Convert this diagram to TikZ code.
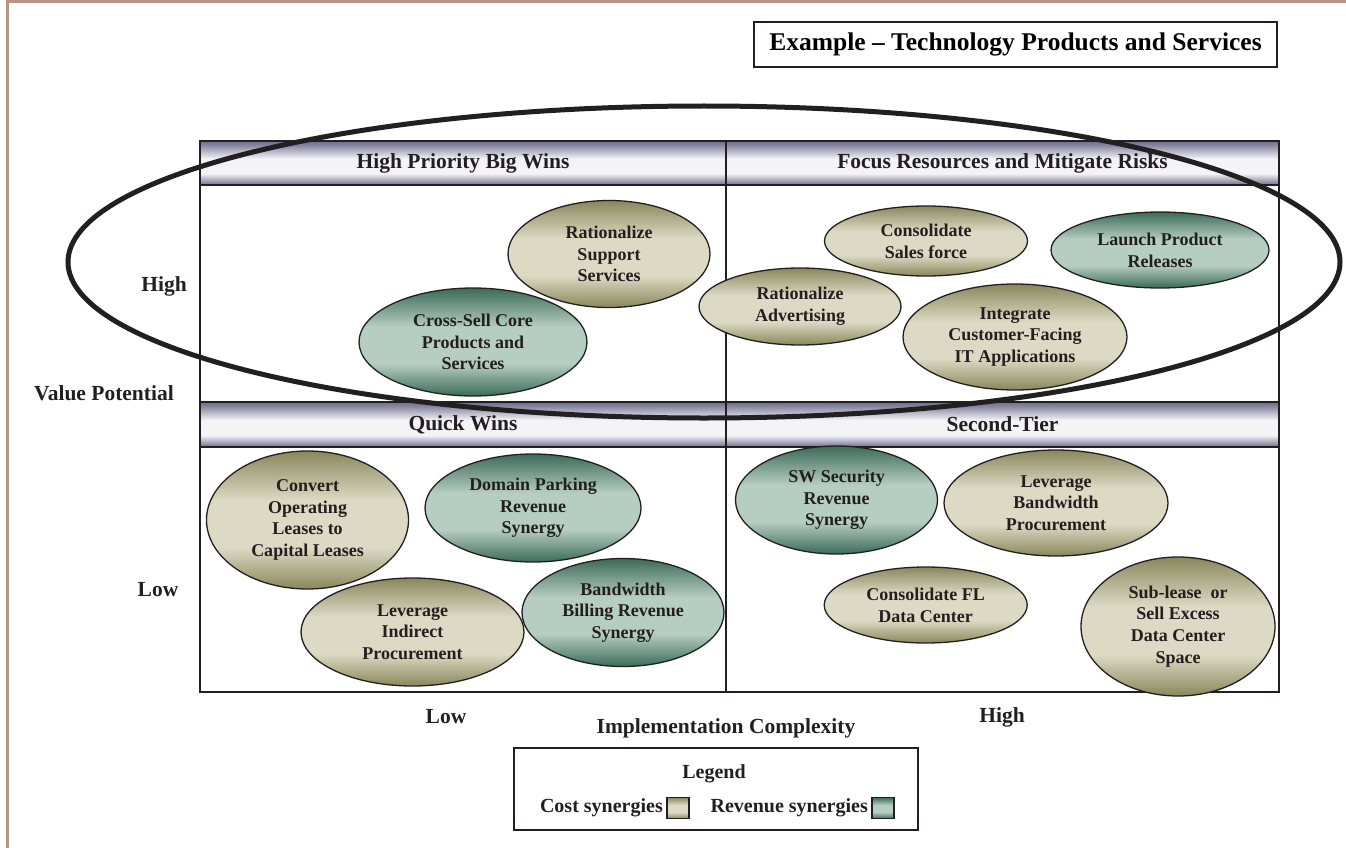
\documentclass[tikz,border=0pt]{standalone}
\usepackage{fontspec}
\setmainfont{Liberation Serif}
\usepackage{tikz}
\usetikzlibrary{shapes.geometric}
\definecolor{ink}      {HTML}{231F20}
\definecolor{rose}     {HTML}{B89484}
\definecolor{tandark}  {HTML}{8A875C}
\definecolor{tanlight} {HTML}{DCDAC4}
\definecolor{tealdark} {HTML}{3B6B58}
\definecolor{teallight}{HTML}{B6CDC1}
\definecolor{banddark} {HTML}{6E6E8C}
\definecolor{bandlight}{HTML}{F3F3F8}
% bottom = 25bp, top = 75bp once fitted to a node
\pgfdeclareverticalshading{costshade}{100bp}{color(0bp)=(tandark); color(25bp)=(tandark);
  color(40bp)=(tanlight); color(57bp)=(tanlight); color(75bp)=(tandark); color(100bp)=(tandark)}
\pgfdeclareverticalshading{revshade}{100bp}{color(0bp)=(tealdark); color(25bp)=(tealdark);
  color(40bp)=(teallight); color(57bp)=(teallight); color(75bp)=(tealdark); color(100bp)=(tealdark)}
\pgfdeclareverticalshading{bandshade}{100bp}{color(0bp)=(banddark); color(25bp)=(banddark);
  color(38bp)=(bandlight); color(55bp)=(bandlight); color(70bp)=(banddark!80!bandlight); color(75bp)=(banddark); color(100bp)=(banddark)}
\tikzset{
  % --- nodes
  blob/.style    = {ellipse, draw=ink, line width=1.3pt, inner sep=0pt, align=center,
                    font=\fontsize{18}{21.7}\selectfont\bfseries, text=ink},
  cost/.style    = {blob, shading=costshade},
  revenue/.style = {blob, shading=revshade},
  dims/.style 2 args = {minimum width=#1, minimum height=#2},
  band/.style    = {draw=ink, line width=1.5pt, shading=bandshade, inner sep=0pt,
                    font=\fontsize{21.5}{25}\selectfont\bfseries, text=ink},
  lbl/.style     = {font=\fontsize{21.5}{25}\selectfont\bfseries, text=ink, inner sep=0pt},
  small/.style   = {font=\fontsize{20}{24}\selectfont\bfseries, text=ink, inner sep=0pt},
  boxed/.style   = {draw=ink, line width=1.5pt, fill=white, inner sep=0pt},
  swatch/.style  = {draw=ink, line width=1.3pt, inner sep=0pt, dims={22}{21}},
  % --- lines
  grid/.style    = {draw=ink, line width=1.6pt},
  ring/.style    = {draw=ink, line width=5pt},
  frame/.style   = {draw=rose, line width=3pt},
}

\begin{document}
\begin{tikzpicture}[x=1pt,y=-1pt]
  \useasboundingbox (0,0) rectangle (1346,848);
  \draw[frame] (7,848) -- (7,2) -- (1346,2);

  % title
  \node[boxed, dims={523}{45}, font=\fontsize{25.5}{29}\selectfont\bfseries] (title) at (1015.5,44.5)
    {Example -- Technology Products and Services};

  % quadrant headers
  \node[band, dims={526}{44}] (hbw) at (463,163)      {High Priority Big Wins};
  \node[band, dims={553}{44}] (frm) at (1002.5,163)   {Focus Resources and Mitigate Risks};
  \node[band, dims={526}{45}] (qkw) at (463,424.5)    {Quick Wins};
  \node[band, dims={553}{45}] (sct) at (1002.5,424.5) {Second-Tier};
  \draw[grid] (200,185) -- (200,402) (200,447) -- (200,692) -- (1279,692) -- (1279,447)
              (1279,402) -- (1279,185) (726,185) -- (726,402) (726,447) -- (726,692);

  % high value
  \node[cost, dims={202}{107}]    (rss) at (609,254)    {Rationalize\\Support\\Services};
  \node[revenue, dims={228}{108}] (csc) at (473,342)    {Cross-Sell Core\\Products and\\Services};
  \node[cost, dims={202}{77}]     (rad) at (800,306.5)  {Rationalize\\Advertising};
  \node[cost, dims={203}{70}]     (csf) at (926,241)    {Consolidate\\Sales force};
  \node[revenue, dims={218}{76}]  (lpr) at (1160,250)   {Launch Product\\Releases};
  \node[cost, dims={224}{106}]    (icf) at (1015,337)   {Integrate\\Customer-Facing\\IT Applications};

  % low value
  \node[cost, dims={202}{138}]    (col) at (307.5,520)  {Convert\\Operating\\Leases to\\Capital Leases};
  \node[revenue, dims={216}{108}] (dpr) at (533,508)    {Domain Parking\\Revenue\\Synergy};
  \node[cost, dims={223}{108}]    (lip) at (412.5,632)  {Leverage\\Indirect\\Procurement};
  \node[revenue, dims={202}{108}] (bbr) at (623,612.5)  {Bandwidth\\Billing Revenue\\Synergy};
  \node[revenue, dims={202}{108}] (sws) at (836.5,500)  {SW Security\\Revenue\\Synergy};
  \node[cost, dims={224}{106}]    (lbp) at (1056,503)   {Leverage\\Bandwidth\\Procurement};
  \node[cost, dims={203}{76}]     (cfl) at (925.7,605)  {Consolidate FL\\Data Center};
  \node[cost, dims={194}{139}]    (sub) at (1178,626.5) {Sub-lease~~or\\Sell Excess\\Data Center\\Space};

  % axes
  \node[lbl] (vhigh) at (164,286)  {High};
  \node[lbl] (vpot)  at (104,393)  {Value Potential};
  \node[lbl] (vlow)  at (158,590)  {Low};
  \node[lbl] (clow)  at (446,717)  {Low};
  \node[lbl] (chigh) at (1002,717) {High};
  \node[lbl] (cimp)  at (726,728)  {Implementation Complexity};

  % legend
  \node[boxed, dims={404}{82}] (legend) at (716,789) {};
  \node[small] (leghd) at (714,774) {Legend};
  \node[swatch, shading=costshade] (cswatch) at (678,808) {};
  \node[swatch, shading=revshade]  (rswatch) at (883,808) {};
  \node[small, anchor=east] (ctext) at (663,808) {Cost synergies};
  \node[small, anchor=east] (rtext) at (868,808) {Revenue synergies};

  \draw[ring] (704,262) ellipse [x radius=636pt, y radius=156pt];
\end{tikzpicture}
\end{document}
